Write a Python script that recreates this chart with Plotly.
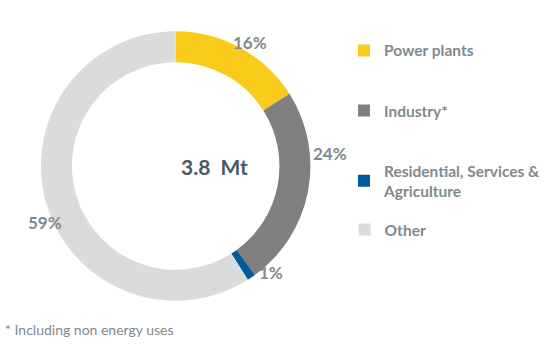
import plotly.graph_objects as go

categories = ["Power plants", "Industry*", "Residential, Services &<br>Agriculture", "Other"]
values = [16, 24, 1, 59]
colors = ["#F9CB1B", "#808080", "#005A9C", "#D9DCDA"]
center_label = "3.8  Mt"
footnote = "* Including non energy uses"

# label placement (pixel positions of the percentage labels, layout only)
label_px = [(250, 30), (331, 153), (271, 285), (26, 222)]

W, H = 547, 356
TXT = "#7F8A8E"
fig = go.Figure()

fig.add_trace(go.Pie(
    labels=categories, values=values,
    marker=dict(colors=colors, line=dict(width=0)),
    hole=0.77, sort=False, direction="clockwise", rotation=0,
    textinfo="none",
    domain=dict(x=[41 / W, 311 / W], y=[(H - 301) / H, (H - 31) / H]),
    showlegend=False, hoverinfo="skip",
))

# legend entries
for i, (c, col) in enumerate(zip(categories, colors)):
    fig.add_trace(go.Scatter(
        x=[None], y=[None], mode="markers", name=c,
        marker=dict(symbol="square", size=12, color=col),
        legendgroup=f"g{i}", showlegend=True,
        legend="legend2" if i == 3 else "legend",
    ))

annotations = [
    dict(text="<b>" + center_label + "</b>", x=179 / W, y=(H - 166) / H,
         xref="paper", yref="paper", showarrow=False,
         font=dict(family="Lato", size=21, color="#4A5965")),
    dict(text=footnote, x=0.005, y=(H - 340) / H, xref="paper", yref="paper",
         xanchor="left", showarrow=False,
         font=dict(family="Lato", size=14, color=TXT)),
]
for v, (px, py) in zip(values, label_px):
    annotations.append(dict(text=f"<b>{v}%</b>", x=px / W, y=(H - py) / H,
                            xref="paper", yref="paper", showarrow=False,
                            font=dict(family="Lato", size=17, color=TXT)))

leg_common = dict(xanchor="left", yanchor="top",
                  font=dict(family="Lato", size=15.5, color=TXT, weight="bold"),
                  itemwidth=30, traceorder="grouped", bgcolor="rgba(0,0,0,0)")
fig.update_layout(
    width=W, height=H,
    margin=dict(l=0, r=0, t=0, b=0),
    paper_bgcolor="white", plot_bgcolor="white",
    xaxis=dict(visible=False), yaxis=dict(visible=False),
    legend=dict(x=0.630, y=0.905, tracegroupgap=37, **leg_common),
    legend2=dict(x=0.630, y=(H - 213) / H, **leg_common),
    annotations=annotations,
)
fig.write_html("out.html")
